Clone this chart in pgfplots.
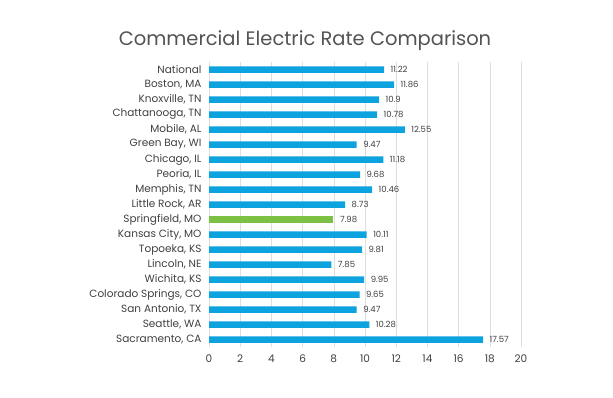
\documentclass[border=0pt]{standalone}
\usepackage{fontspec}
\setmainfont{Poppins}
\usepackage{pgfplots}
\pgfplotsset{compat=1.18}
\definecolor{barblue}{RGB}{12,163,222}
\definecolor{bargreen}{RGB}{124,193,67}
\definecolor{txt}{RGB}{64,64,64}
\definecolor{gridgray}{RGB}{222,222,222}
\begin{document}
\begin{tikzpicture}
\useasboundingbox (0,0) rectangle (613pt,397pt);
\node[font=\fontsize{19.5}{22}\selectfont, text=txt!90] at (305pt,356pt) {Commercial Electric Rate Comparison};
\begin{axis}[
  at={(209pt,50pt)}, anchor=south west,
  scale only axis, width=312pt, height=285pt,
  xbar, bar width=6.5pt, bar shift=0pt,
  xmin=0, xmax=20, xtick={0,2,...,20},
  ymin=-0.5, ymax=18.5, y dir=reverse,
  ytick={0,...,18},
  yticklabels={National,{Boston, MA},{Knoxville, TN},{Chattanooga, TN},{Mobile, AL},{Green Bay, WI},{Chicago, IL},{Peoria, IL},{Memphis, TN},{Little Rock, AR},{Springfield, MO},{Kansas City, MO},{Topoeka, KS},{Lincoln, NE},{Wichita, KS},{Colorado Springs, CO},{San Antonio, TX},{Seattle, WA},{Sacramento, CA}},
  axis line style={draw=none},
  major tick length=0pt,
  xmajorgrids=true, ymajorgrids=false,
  major x grid style={draw=gridgray, line width=0.6pt},
  /pgf/number format/assume math mode=true,
  ticklabel style={font=\fontsize{10.5}{12}\selectfont, text=txt},
  yticklabel style={xshift=-4pt},
  xticklabel style={yshift=-4pt},
  nodes near coords,
  nodes near coords style={font=\fontsize{8.5}{10}\selectfont, text=txt, anchor=west, xshift=3pt},
  clip=false,
]
\addplot[fill=barblue, draw=none] coordinates {
(11.22,0) (11.86,1) (10.9,2) (10.78,3) (12.55,4) (9.47,5) (11.18,6) (9.68,7) (10.46,8) (8.73,9)
(10.11,11) (9.81,12) (7.85,13) (9.95,14) (9.65,15) (9.47,16) (10.28,17) (17.57,18)};
\addplot[fill=bargreen, draw=none] coordinates {(7.98,10)};
\end{axis}
\end{tikzpicture}
\end{document}
